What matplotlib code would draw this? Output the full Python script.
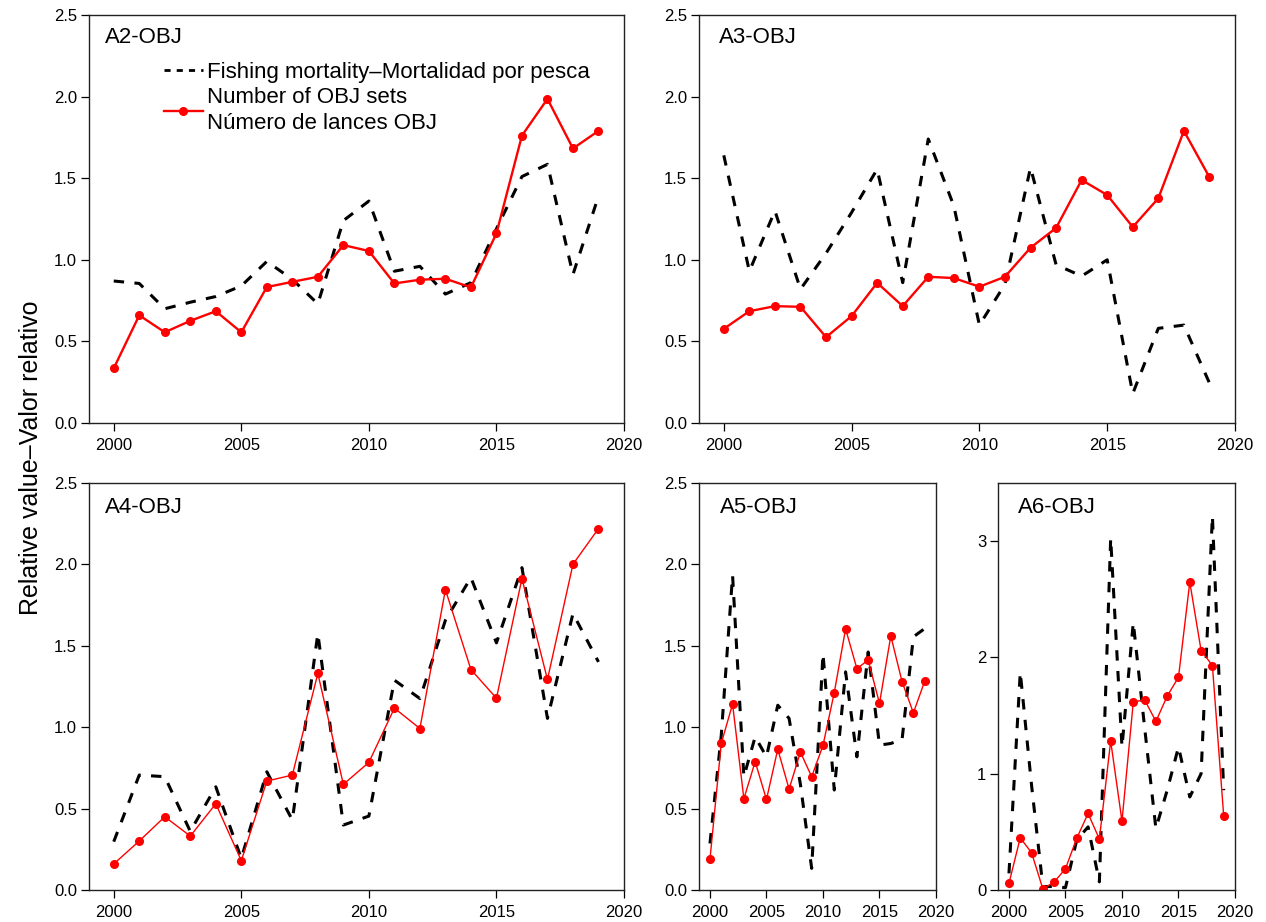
import numpy as np
import matplotlib
matplotlib.use('Agg')
import matplotlib.pyplot as plt
from matplotlib.lines import Line2D

plt.rcParams['font.family'] = ['Liberation Sans', 'DejaVu Sans']

years = np.arange(2000, 2020)

# Fishing mortality (dashed) and number of OBJ sets (red) per area
A2_F = [0.87, 0.855, 0.70, 0.74, 0.775, 0.84, 0.99, 0.88, 0.73, 1.24, 1.36, 0.93, 0.96, 0.79, 0.86, 1.19, 1.51, 1.585, 0.91, 1.39]
A2_N = [0.335, 0.66, 0.556, 0.626, 0.685, 0.556, 0.833, 0.865, 0.896, 1.09, 1.054, 0.855, 0.878, 0.884, 0.831, 1.162, 1.761, 1.986, 1.682, 1.79]

A3_F = [1.64, 0.93, 1.30, 0.82, 1.04, 1.29, 1.555, 0.86, 1.74, 1.33, 0.60, 0.85, 1.565, 0.97, 0.90, 1.00, 0.18, 0.58, 0.60, 0.245]
A3_N = [0.577, 0.685, 0.716, 0.712, 0.526, 0.655, 0.859, 0.716, 0.896, 0.888, 0.835, 0.896, 1.074, 1.195, 1.489, 1.397, 1.201, 1.377, 1.79, 1.506]

A4_F = [0.297, 0.706, 0.696, 0.36, 0.634, 0.194, 0.726, 0.43, 1.575, 0.399, 0.454, 1.289, 1.176, 1.657, 1.919, 1.518, 1.98, 1.054, 1.698, 1.401]
A4_N = [0.16, 0.301, 0.45, 0.331, 0.53, 0.18, 0.669, 0.706, 1.33, 0.649, 0.784, 1.117, 0.992, 1.845, 1.354, 1.178, 1.913, 1.293, 2.001, 2.22]

A5_F = [0.286, 0.95, 1.933, 0.696, 0.941, 0.818, 1.135, 1.054, 0.65, 0.133, 1.452, 0.614, 1.34, 0.818, 1.462, 0.89, 0.90, 0.925, 1.555, 1.606]
A5_N = [0.188, 0.90, 1.142, 0.561, 0.788, 0.556, 0.865, 0.62, 0.847, 0.696, 0.888, 1.213, 1.604, 1.36, 1.412, 1.146, 1.561, 1.279, 1.088, 1.283]

A6_F = [0.143, 1.873, 0.9, 0.03, 0.03, 0.02, 0.43, 0.543, 0.07, 3.025, 1.23, 2.30, 1.4, 0.529, 0.858, 1.23, 0.80, 1.0, 3.217, 0.858]
A6_N = [0.057, 0.449, 0.32, 0.009, 0.069, 0.183, 0.446, 0.658, 0.438, 1.281, 0.592, 1.616, 1.636, 1.45, 1.667, 1.83, 2.648, 2.059, 1.93, 0.638]

W, H = 1266, 922
fig = plt.figure(figsize=(W / 100, H / 100), dpi=100)

def px_axes(l, r, t, b):
    return fig.add_axes([l / W, 1 - b / H, (r - l) / W, (b - t) / H])

# (name, F, N, box in pixels, ylim, yticks, red lw, label x, label y)
panels = [
    ('A2-OBJ', A2_F, A2_N, (89, 624, 15, 423), 2.5, [0, 0.5, 1.0, 1.5, 2.0, 2.5], 1.7, 0.03, 0.946),
    ('A3-OBJ', A3_F, A3_N, (699, 1235, 15, 423), 2.5, [0, 0.5, 1.0, 1.5, 2.0, 2.5], 1.7, 0.037, 0.946),
    ('A4-OBJ', A4_F, A4_N, (89, 624, 483, 890), 2.5, [0, 0.5, 1.0, 1.5, 2.0, 2.5], 1.0, 0.03, 0.939),
    ('A5-OBJ', A5_F, A5_N, (699, 936, 483, 890), 2.5, [0, 0.5, 1.0, 1.5, 2.0, 2.5], 1.0, 0.089, 0.939),
    ('A6-OBJ', A6_F, A6_N, (998, 1235, 483, 890), 3.5, [0, 1, 2, 3], 1.0, 0.084, 0.939),
]

axes = []
for name, F, N, box, ytop, yt, rlw, lx, ly in panels:
    ax = px_axes(*box)
    ax.plot(years, F, color='black', lw=2.2, dashes=(3.4, 3.4))
    ax.plot(years, N, color='red', lw=rlw, marker='o', markersize=5.5)
    ax.set_xlim(1999.03, 2020)
    ax.set_ylim(0, ytop)
    ax.set_xticks([2000, 2005, 2010, 2015, 2020])
    ax.set_yticks(yt)
    if ytop == 2.5:
        ax.set_yticklabels(['%.1f' % v for v in yt])
    ax.tick_params(axis='both', labelsize=12, length=5.5, width=0.9, direction='out')
    ax.tick_params(axis='y', pad=3)
    ax.tick_params(axis='x', pad=5)
    for s in ax.spines.values():
        s.set_linewidth(1.0)
        s.set_color('#222222')
    ax.text(lx, ly, name, transform=ax.transAxes, fontsize=16, ha='left', va='center')
    axes.append(ax)

# legend only in the first panel (shorter dashes in the key)
hf = Line2D([], [], color='black', lw=2.0, dashes=(2.2, 2.2))
hn = Line2D([], [], color='red', lw=1.7, marker='o', markersize=5.5)
leg = axes[0].legend([hf, hn], ['Fishing mortality\u2013Mortalidad por pesca',
                                'Number of OBJ sets\nN\u00famero de lances OBJ'],
                     loc='upper left', bbox_to_anchor=(0.14, 0.886), frameon=False,
                     fontsize=16, handlelength=1.75, handletextpad=0.2,
                     borderpad=0, borderaxespad=0, labelspacing=0.2)
for t in leg.get_texts():
    t.set_linespacing(1.3)

fig.text(31 / W, 1 - 458 / H, 'Relative value\u2013Valor relativo', rotation=90,
         fontsize=18, ha='center', va='center')

fig.savefig('out.png', dpi=100)
